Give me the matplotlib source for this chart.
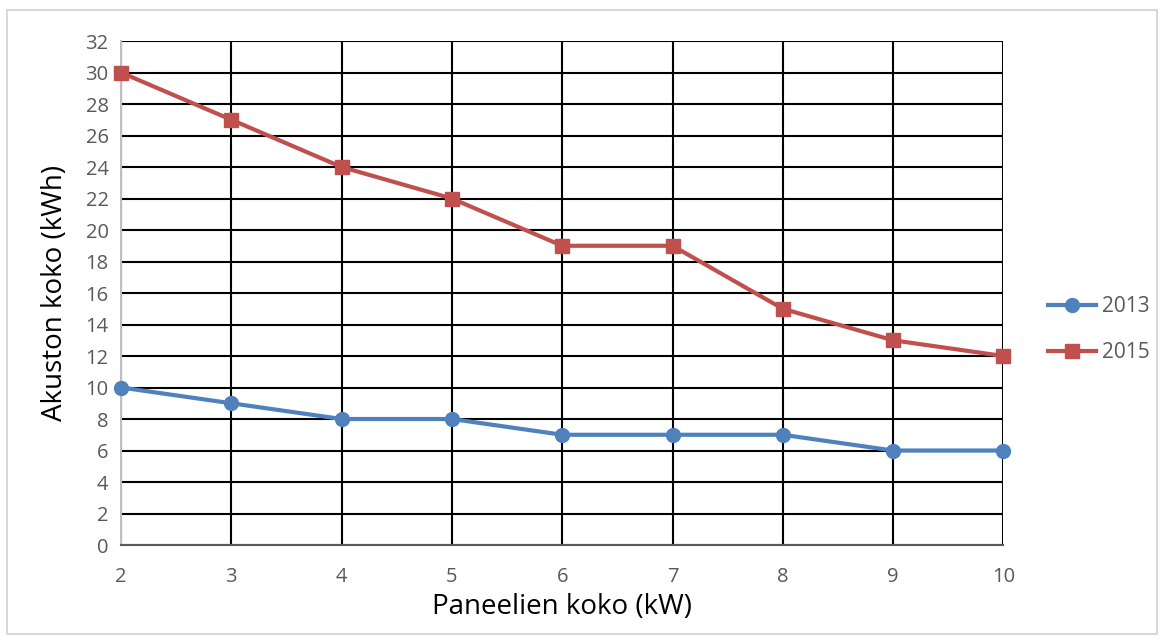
import matplotlib.pyplot as plt
from matplotlib.patches import Rectangle

plt.rc('font', family=['Open Sans', 'DejaVu Sans'])

panel_kw = [2, 3, 4, 5, 6, 7, 8, 9, 10]
battery_2013 = [10, 9, 8, 8, 7, 7, 7, 6, 6]
battery_2015 = [30, 27, 24, 22, 19, 19, 15, 13, 12]

fig = plt.figure(figsize=(11.64, 6.37), dpi=100)
ax = fig.add_axes([0.104, 0.1444, 0.758, 0.7912])

ax.plot(panel_kw, battery_2013, color='#4f81bd', lw=3, marker='o', markersize=10, label='2013',
        clip_on=False, zorder=3)
ax.plot(panel_kw, battery_2015, color='#c0504d', lw=3, marker='s', markersize=10, label='2015',
        clip_on=False, zorder=3)

ax.set_xlim(2, 10)
ax.set_ylim(0, 32)
ax.set_xticks(panel_kw)
ax.set_yticks(range(0, 33, 2))
ax.grid(True, color='black', lw=1.5)
ax.set_axisbelow(True)
ax.tick_params(length=0, labelsize=14.5, colors='#595959', pad=9)
ax.tick_params(axis='x', pad=16)

ax.spines['top'].set_visible(False)
ax.spines['right'].set_visible(False)
ax.spines['left'].set_color('#bfbfbf')
ax.spines['left'].set_linewidth(1.5)
ax.spines['bottom'].set_color('#595959')
ax.spines['bottom'].set_linewidth(1.5)

ax.set_xlabel('Paneelien koko (kW)', fontsize=20, labelpad=4)
ax.set_ylabel('Akuston koko (kWh)', fontsize=20, labelpad=12)

fig.legend(loc='center left', bbox_to_anchor=(0.884, 0.483), frameon=False, fontsize=15,
           handlelength=2.3, labelcolor='#595959', labelspacing=1.2, handletextpad=0.3)

fig.patches.append(Rectangle((0.006, 0.005), 0.988, 0.98, transform=fig.transFigure,
                             fill=False, edgecolor='#d9d9d9', lw=1.5))

plt.savefig('out.png')
